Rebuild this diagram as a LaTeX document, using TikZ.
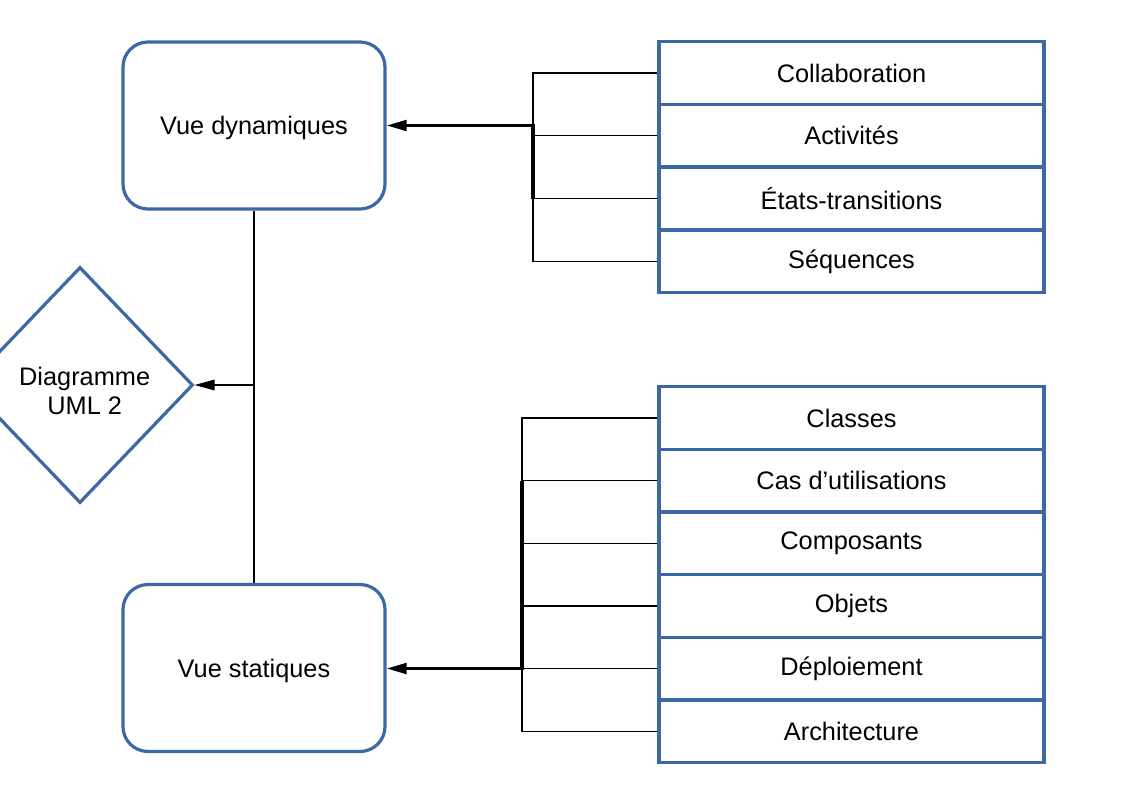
\documentclass[tikz,border=0pt]{standalone}
\usepackage{fontspec}
\setmainfont{Liberation Sans}
\usetikzlibrary{shapes.geometric,arrows.meta}

\tikzset{
  vue/.style={draw=bleu,line width=2.4pt,rounded corners=18.75pt,
    minimum width=196.5pt,minimum height=125.25pt,inner sep=0pt,
    text depth=-2pt},
  item/.style={draw=bleu,line width=2.4pt,minimum width=288.75pt,
    minimum height=47pt,inner sep=0pt},
  lien/.style={line width=0.8pt},
  fort/.style={line width=2.4pt},
  fleche/.style={line width=2.2pt,-{Triangle[length=15pt,width=8pt]}},
  flechefine/.style={line width=0.8pt,-{Triangle[length=15pt,width=8pt]}}
}
\definecolor{bleu}{HTML}{3C68A6}

\begin{document}
\begin{tikzpicture}[x=0.75pt,y=-0.75pt,font=\fontsize{19}{21.5}\selectfont,line join=miter]
  \useasboundingbox (0,0) rectangle (1123,794);
  \clip (0,0) rectangle (1123,794);
  % les deux vues
  \node[vue] (dyn) at (254,125.5) {Vue dynamiques};
  \node[vue] (stat) at (254,668) {Vue statiques};
  \node[draw=bleu,line width=2.4pt,diamond,minimum width=226*0.75pt,
    minimum height=236*0.75pt,inner sep=0pt,align=center] (diag) at (80,385)
    {\raisebox{-7pt}[\height][\depth]{\hspace*{7pt}\begin{tabular}{@{}c@{}}Diagramme\\UML 2\end{tabular}}};
  % vue dynamique
  \node[item] (col) at (851.5,73) {Collaboration};
  \node[item] (act) at (851.5,135.5) {Activités};
  \node[item] (etat) at (851.5,198.5) {États-transitions};
  \node[item] (seq) at (851.5,261.5) {Séquences};
  % vue statique
  \node[item] (cla) at (851.5,418) {Classes};
  \node[item] (cas) at (851.5,480.5) {Cas d’utilisations};
  \node[item] (comp) at (851.5,543.5) {Composants};
  \node[item] (obj) at (851.5,606) {Objets};
  \node[item] (dep) at (851.5,668.5) {Déploiement};
  \node[item] (arch) at (851.5,731.5) {Architecture};
  \coordinate (jd) at (533,125.5);
  \coordinate (js) at (522,668.5);
  \draw[lien] (col.west) -| (jd) |- (seq.west);
  \draw[lien] (act.west) -- (act.west -| jd);
  \draw[lien] (etat.west) -- (etat.west -| jd);
  \draw[fort] (etat.west -| jd) -- ([yshift=1pt]jd);
  \draw[fleche] ([xshift=1.1pt]jd) -- (dyn.east);
  \draw[lien] (cla.west) -| (js) |- (arch.west);
  \draw[lien] (cas.west) -- (cas.west -| js);
  \draw[lien] (comp.west) -- (comp.west -| js);
  \draw[lien] (obj.west) -- (obj.west -| js);
  \draw[lien] (dep.west) -- (dep.west -| js);
  \draw[fort] (cas.west -| js) -- ([yshift=-1pt]js);
  \draw[fleche] ([xshift=1.1pt]js) -- (stat.east |- js);
  % vers le diagramme
  \draw[lien] (dyn.south) -- (stat.north);
  \draw[flechefine] (dyn.south |- diag.east) -- (diag.east);
\end{tikzpicture}
\end{document}
